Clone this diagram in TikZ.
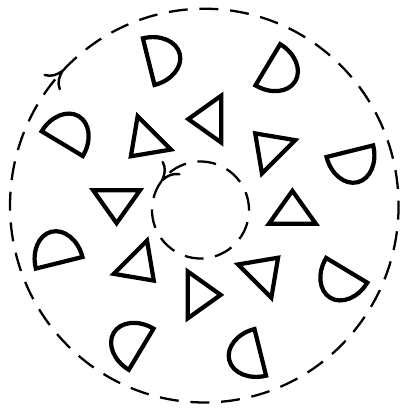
\documentclass[tikz,border=0pt]{standalone}
\usetikzlibrary{arrows.meta,decorations.markings}

\begin{document}
\begin{tikzpicture}[
    shapeline/.style={draw=black, line width=1.2pt, line join=miter},
    ringline/.style={draw=black, line width=0.65pt,
                     dash pattern=on 5.4pt off 3.34pt},
    spin/.style={postaction={decorate, decoration={markings,
                 mark=at position 0.1pt with {\arrow[line width=0.7pt]
                 {Computer Modern Rightarrow[length=5pt,width=6.6pt]}}}}},
    halfdisc/.pic={\draw[shapeline] (0,-0.24)
        arc[start angle=-90, end angle=90, x radius=0.32, y radius=0.24]
        -- cycle;},
    wedge/.pic={\draw[shapeline] (0.22,0) -- (-0.11,0.235)
        -- (-0.11,-0.235) -- cycle;},
]
\useasboundingbox (-2.045,-2.05) rectangle (2.005,2.07);

% centres of the two dashed boundaries
\coordinate (rim) at (-0.002,0.014);
\coordinate (hub) at (-0.04,-0.03);

% outer boundary (turns clockwise)
\draw[ringline, spin] (rim) ++(136.6:1.943 and 1.969)
    arc[start angle=136.6, delta angle=-360,
        x radius=1.943, y radius=1.969];

% inner boundary (turns counter-clockwise)
\draw[ringline, spin, dash pattern=on 5.35pt off 3.32pt]
    (hub) ++(143.3:0.485)
    arc[start angle=143.3, delta angle=360, radius=0.485];

% outer ring of half discs
\foreach \k in {0,...,7}
    \pic[rotate=-76+45*\k] at (21+45*\k:1.557) {halfdisc};

% inner ring of triangles
\foreach \k in {0,...,7}
    \pic[rotate=90+45*\k] at (-3.8+45*\k:0.881) {wedge};

\end{tikzpicture}
\end{document}
